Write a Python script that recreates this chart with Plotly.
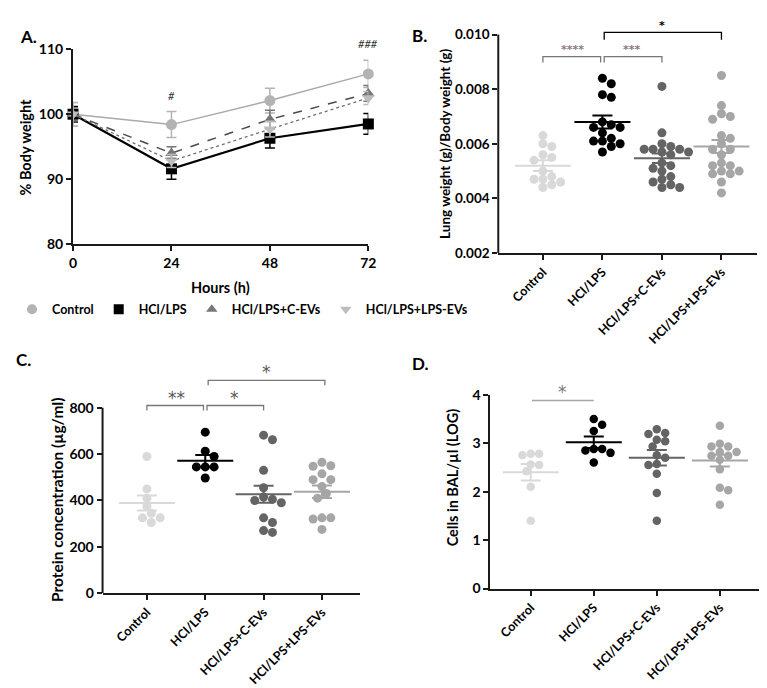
import plotly.graph_objects as go

W, H = 767, 688

# ---- panel A: body weight over time
hours = [0, 24, 48, 72]
bw_control = [100, 98.4, 102.1, 106.2]
bw_control_err = [1.8, 2.0, 1.9, 2.1]
bw_lps = [100, 91.6, 96.3, 98.5]
bw_lps_err = [1.2, 1.6, 1.5, 1.6]
bw_cev = [100, 94.0, 99.2, 103.2]
bw_cev_err = [1.0, 1.0, 1.4, 1.2]
bw_lev = [100, 92.8, 97.7, 102.5]
bw_lev_err = [1.8, 1.0, 1.2, 1.0]

groups = ["Control", "HCl/LPS", "HCl/LPS+C-EVs", "HCl/LPS+LPS-EVs"]
group_colors = ["#d9d9d9", "#000000", "#646464", "#a6a6a6"]

# ---- panel B: lung weight / body weight
lung_control = [0.0063, 0.0060, 0.0059, 0.0056, 0.0055, 0.0054, 0.0050, 0.0048,
                0.0047, 0.0047, 0.0046, 0.0045, 0.0044]
lung_lps = [0.0084, 0.0082, 0.0078, 0.0077, 0.0068, 0.0067, 0.0066, 0.0066,
            0.0064, 0.0062, 0.0061, 0.0061, 0.0060, 0.0059, 0.0057]
lung_cev = [0.0081, 0.0064, 0.0060, 0.0059, 0.0058, 0.0058, 0.0058, 0.0057,
            0.0057, 0.0056, 0.0053, 0.0052, 0.0051, 0.0050, 0.0048, 0.0047,
            0.0046, 0.0045, 0.0044, 0.0044]
lung_lev = [0.0085, 0.0074, 0.0071, 0.0070, 0.0069, 0.0063, 0.0062, 0.0060,
            0.0058, 0.0058, 0.0056, 0.0053, 0.0052, 0.0052, 0.0050, 0.0050,
            0.0049, 0.0049, 0.0046, 0.0042]
lung_mean = [0.00520, 0.00680, 0.00547, 0.00590]
lung_sem = [0.00020, 0.00024, 0.00017, 0.00024]

# ---- panel C: protein concentration
prot_control = [590, 450, 410, 375, 345, 325, 325, 305]
prot_lps = [695, 613, 590, 545, 545, 545, 497]
prot_cev = [682, 662, 530, 455, 415, 405, 400, 390, 325, 305, 270, 262]
prot_lev = [565, 550, 548, 515, 490, 490, 460, 430, 410, 325, 325, 320, 275]
prot_mean = [389, 571, 427, 438]
prot_sem = [32, 25, 37, 27]

# ---- panel D: cells in BAL (log)
cells_control = [2.78, 2.78, 2.75, 2.56, 2.55, 2.42, 2.10, 1.40]
cells_lps = [3.50, 3.38, 3.25, 2.88, 2.88, 2.85, 2.80, 2.60]
cells_cev = [3.29, 3.19, 3.21, 3.07, 3.04, 2.93, 2.75, 2.70, 2.57, 2.55, 2.37, 1.97, 1.40]
cells_lev = [3.36, 2.99, 2.93, 2.93, 2.82, 2.82, 2.74, 2.74, 2.66, 2.46, 2.08, 2.03, 1.73]
cells_mean = [2.40, 3.02, 2.70, 2.64]
cells_sem = [0.17, 0.12, 0.16, 0.12]


def fx(p):
    return p / W


def fy(p):
    return 1 - p / H


def swarm(vals, ppu_y, ppu_x, d):
    # simple beeswarm: offsets (in category units) so dots don't overlap
    placed = []
    offs = [0.0] * len(vals)
    order = sorted(range(len(vals)), key=lambda i: -vals[i])
    step = d * 0.5
    for i in order:
        y = vals[i] * ppu_y
        k = 0
        found = None
        while found is None:
            cands = [0.0] if k == 0 else [k * step, -k * step]
            for c in cands:
                if all((c - a) ** 2 + (y - b) ** 2 >= (d * 0.92) ** 2 for a, b in placed):
                    found = c
                    break
            k += 1
        placed.append((found, y))
        offs[i] = found / ppu_x
    return offs


fig = go.Figure()
FONT = "Lato"
STAR_FONT = "DejaVu Sans"

# ---------------- panel A
a_styles = [
    ("Control", bw_control, bw_control_err, "#a9a9a9", "#b3b3b3", "solid", "circle", 1.5),
    ("HCl/LPS", bw_lps, bw_lps_err, "#000000", "#000000", "solid", "square", 2.2),
    ("HCl/LPS+C-EVs", bw_cev, bw_cev_err, "#4a4a4a", "#777777", "dash", "triangle-up", 1.5),
    ("HCl/LPS+LPS-EVs", bw_lev, bw_lev_err, "#6f6f6f", "#bdbdbd", "dot", "triangle-down", 1.3),
]
for name, ys, errs, lc, mc, dash, sym, lw in a_styles:
    fig.add_trace(go.Scatter(
        x=hours, y=ys, name=name, mode="lines+markers",
        line=dict(color=lc, width=lw, dash=dash),
        marker=dict(symbol=sym, size=11, color=mc),
        error_y=dict(type="data", array=errs, color=mc, thickness=1.5, width=5),
        cliponaxis=False, xaxis="x", yaxis="y", showlegend=False,
    ))
# legend entries (marker only, like the original key)
for name, ys, errs, lc, mc, dash, sym, lw in a_styles:
    fig.add_trace(go.Scatter(
        x=[None], y=[None], name=name, mode="markers",
        marker=dict(symbol=sym, size=10, color=mc),
        xaxis="x", yaxis="y",
    ))


def scatter_panel(n, data, means, sems, xr, yr, xdom, ydom, diam):
    xa = "x" + str(n)
    ya = "y" + str(n)
    ppu_x = (xdom[1] - xdom[0]) / (xr[1] - xr[0])
    ppu_y = (ydom[1] - ydom[0]) / (yr[1] - yr[0])
    for gi, vals in enumerate(data):
        offs = swarm(vals, ppu_y, ppu_x, diam)
        fig.add_trace(go.Scatter(
            x=[gi + o for o in offs], y=vals, mode="markers",
            marker=dict(size=diam, color=group_colors[gi], line=dict(width=0)),
            showlegend=False, xaxis=xa, yaxis=ya, cliponaxis=False,
        ))
    for gi in range(len(data)):
        fig.add_trace(go.Scatter(
            x=[gi], y=[means[gi]], mode="markers",
            marker=dict(symbol="line-ew", size=40,
                        line=dict(color=group_colors[gi], width=2)),
            error_y=dict(type="data", array=[sems[gi]], color=group_colors[gi],
                         thickness=2, width=10),
            showlegend=False, xaxis=xa, yaxis=ya, cliponaxis=False,
        ))


def bracket(n, x0, x1, y, drop, color, width=1.3):
    fig.add_trace(go.Scatter(
        x=[x0, x0, x1, x1], y=[y - drop, y, y, y - drop], mode="lines",
        line=dict(color=color, width=width), showlegend=False,
        hoverinfo="skip", xaxis="x" + str(n), yaxis="y" + str(n),
    ))


# panel B
B_x, B_y = (494, 757), (4, 242)
B_xr, B_yr = (-0.75, 3.6), (0.002, 0.0105)
scatter_panel(2, [lung_control, lung_lps, lung_cev, lung_lev], lung_mean, lung_sem,
              B_xr, B_yr, B_x, B_y, 9)
bracket(2, 0, 0.97, 0.00919, 0.00021, "#777777")
bracket(2, 1.03, 2.0, 0.00919, 0.00021, "#777777")
bracket(2, 1.03, 3.0, 0.01008, 0.00027, "#000000")

# panel C
C_x, C_y = (92, 354), (358, 590.7)
C_xr, C_yr = (-0.76, 3.66), (0, 980)
scatter_panel(3, [prot_control, prot_lps, prot_cev, prot_lev], prot_mean, prot_sem,
              C_xr, C_yr, C_x, C_y, 9)
bracket(3, 0, 0.97, 810, 21, "#777777")
bracket(3, 1.03, 2.0, 810, 21, "#777777")
bracket(3, 1.05, 3.05, 919, 22, "#777777")

# panel D
D_x, D_y = (486, 762), (387.3, 586)
D_xr, D_yr = (-0.64, 3.67), (0, 4)
scatter_panel(4, [cells_control, cells_lps, cells_cev, cells_lev], cells_mean, cells_sem,
              D_xr, D_yr, D_x, D_y, 8.5)
bracket(4, 0.02, 1.0, 3.88, 0, "#a6a6a6", 1.6)

axis_common = dict(showgrid=False, zeroline=False, showline=True, linecolor="#1a1a1a",
                   linewidth=2, ticks="outside", ticklen=5, tickwidth=1.5,
                   tickcolor="#1a1a1a")
cat_x = dict(axis_common, tickvals=[0, 1, 2, 3], ticktext=groups, tickangle=-45,
             tickfont=dict(family=FONT, size=12.5, color="black", weight="bold"))

layout = dict(
    width=W, height=H, margin=dict(l=0, r=0, t=0, b=0),
    plot_bgcolor="white", paper_bgcolor="white",
    font=dict(family=FONT, color="black"),
    showlegend=True,
    legend=dict(orientation="h", x=0, y=fy(300), xanchor="left", yanchor="middle",
                font=dict(family=FONT, size=12.5, color="black", weight="bold"),
                itemwidth=30, tracegroupgap=0, bgcolor="rgba(0,0,0,0)"),
    xaxis=dict(axis_common, domain=[fx(62), fx(362)], range=[0, 72], anchor="y",
               tickvals=hours,
               tickfont=dict(family=FONT, size=14, color="black", weight="bold")),
    yaxis=dict(axis_common, domain=[fy(233), fy(33)], range=[80, 110], anchor="x",
               tickvals=[80, 90, 100, 110],
               tickfont=dict(family=FONT, size=14, color="black", weight="bold")),
    xaxis2=dict(cat_x, domain=[fx(B_x[0]), fx(B_x[1])], range=list(B_xr), anchor="y2"),
    yaxis2=dict(axis_common, domain=[fy(B_y[1]), fy(B_y[0])], range=list(B_yr), anchor="x2",
                showline=False, tickvals=[0.002, 0.004, 0.006, 0.008, 0.010],
                ticktext=["0.002", "0.004", "0.006", "0.008", "0.010"],
                tickfont=dict(family=FONT, size=13.5, color="black", weight="bold")),
    xaxis3=dict(cat_x, domain=[fx(C_x[0]), fx(C_x[1])], range=list(C_xr), anchor="y3"),
    yaxis3=dict(axis_common, domain=[fy(C_y[1]), fy(C_y[0])], range=list(C_yr), anchor="x3",
                showline=False, tickvals=[0, 200, 400, 600, 800],
                tickfont=dict(family=FONT, size=14, color="black", weight="bold")),
    xaxis4=dict(cat_x, domain=[fx(D_x[0]), fx(D_x[1])], range=list(D_xr), anchor="y4"),
    yaxis4=dict(axis_common, domain=[fy(D_y[1]), fy(D_y[0])], range=list(D_yr), anchor="x4",
                tickvals=[0, 1, 2, 3, 4],
                tickfont=dict(family=FONT, size=14, color="black", weight="bold")),
)
fig.update_layout(**layout)

# y axis lines for B and C stop at the top tick (brackets sit above)
fig.add_shape(type="line", xref="paper", yref="y2", x0=fx(B_x[0]), x1=fx(B_x[0]),
              y0=0.002, y1=0.010, line=dict(color="#1a1a1a", width=2))
fig.add_shape(type="line", xref="paper", yref="y3", x0=fx(C_x[0]), x1=fx(C_x[0]),
              y0=0, y1=800, line=dict(color="#1a1a1a", width=2))


def note(text, x, y, size, color="black", bold=True, angle=0, xref="paper", yref="paper",
         italic=False, family=FONT):
    fig.add_annotation(text=text, x=x, y=y, xref=xref, yref=yref, showarrow=False,
                       textangle=angle, xanchor="center", yanchor="middle",
                       font=dict(family=family, size=size, color=color,
                                 weight="bold" if bold else "normal",
                                 style="italic" if italic else "normal"))


# panel letters
note("A.", fx(17), fy(20), 17)
note("B.", fx(414), fy(19), 17)
note("C.", fx(12), fy(351), 17)
note("D.", fx(415), fy(355), 17)

# axis titles
note("% Body weight", fx(14), fy(133), 14.5, angle=-90)
note("Hours (h)", fx(212), fy(277), 14.5)
note("Lung weight (g)/Body weight (g)", fx(440), fy(130), 13.5, angle=-90)
note("Protein concentration (µg/ml)", fx(45), fy(495), 15.5, angle=-90)
note("Cells in BAL/µl (LOG)", fx(447), fy(473), 14.5, angle=-90)

# significance marks (points above an axis range go in paper coords)
note("#", 24, 102.8, 11, color="#333333", bold=False, xref="x", yref="y", italic=True)
note("###", 72, fy(27), 11, color="#333333", bold=False, xref="x", italic=True)
note("****", 0.5, 0.00945, 11, color="#8c7b80", xref="x2", yref="y2", family=STAR_FONT)
note("***", 1.5, 0.00945, 11, color="#8c7b80", xref="x2", yref="y2", family=STAR_FONT)
note("*", 2.0, 0.01035, 11, color="#000000", xref="x2", yref="y2", family=STAR_FONT)
note("**", 0.5, 843, 17, color="#555555", bold=False, xref="x3", yref="y3", family=STAR_FONT)
note("*", 1.5, 843, 17, color="#555555", bold=False, xref="x3", yref="y3", family=STAR_FONT)
note("*", 2.05, 954, 17, color="#555555", bold=False, xref="x3", yref="y3", family=STAR_FONT)
note("*", 0.5, fy(385), 17, color="#777777", bold=False, xref="x4", family=STAR_FONT)

fig.write_html("out.html")
